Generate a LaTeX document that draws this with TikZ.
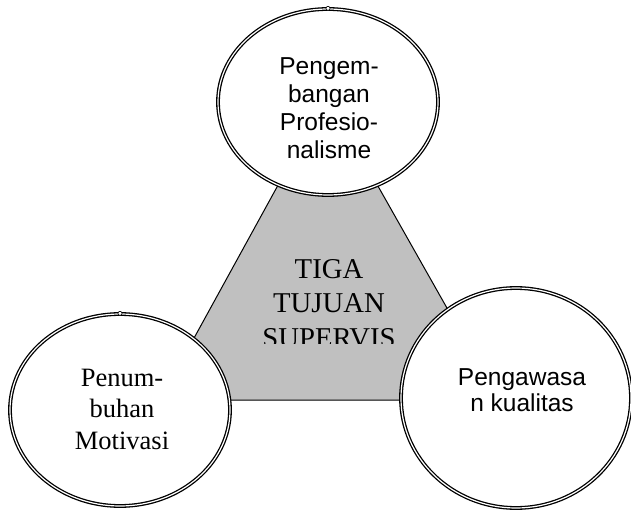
\documentclass[tikz,border=0pt]{standalone}
\usepackage{fontspec}
\setmainfont{Liberation Serif}
\setsansfont{Liberation Sans}
\usepackage[HTML]{xcolor}
\usetikzlibrary{positioning, shapes.geometric}
\definecolor{silver}{HTML}{C0C0C0}

\begin{document}
\begin{tikzpicture}[x=1pt,y=-1pt,
  goal/.style={ellipse, draw=black, double, line width=1.3pt,
    double distance=1.2pt, fill=white, inner sep=0pt},
  txt/.style={align=center, inner sep=0pt},
  sans/.style={font=\sffamily\fontsize{24.5}{28}\selectfont},
  serif/.style={font=\fontsize{26.5}{31.5}\selectfont}]
\useasboundingbox (0,0) rectangle (631,510);

% Central triangle
\coordinate (apex) at (327,96);
\coordinate (bl) at (160,400);
\coordinate (br) at (499,400);
\filldraw[fill=silver, line width=1pt] (apex) -- (bl) -- (br) -- cycle;

% Three goals
\node[goal, minimum width=220, minimum height=186] (prof) at (328,102) {};
\node[goal, minimum width=220, minimum height=192] (motiv) at (120,410) {};
\node[goal, minimum width=230, minimum height=220] (qual) at (516,398) {};

\node[txt, sans] (proftext) at (329,108) {Pengem-\\bangan\\Profesio-\\nalisme};
\node[txt, serif] (motivtext) at (122,409) {Penum-\\buhan\\Motivasi};
\node[txt, sans, font=\sffamily\fontsize{24.5}{26.5}\selectfont] (qualtext) at (522,390)
  {Pengawasa\\n kualitas};

% Handles on top
\foreach \n in {prof, motiv}{
  \draw[line width=0.6pt, fill=white] (\n.north) circle (2);
}

% Title, clipped by its box
\begin{scope}
\clip (240,235) rectangle (420,343);
\node[font=\fontsize{28.7}{34.5}\selectfont, align=center, anchor=north, inner sep=0pt]
  (title) at (329,259) {TIGA\\TUJUAN\\SUPERVIS};
\end{scope}
\end{tikzpicture}
\end{document}
